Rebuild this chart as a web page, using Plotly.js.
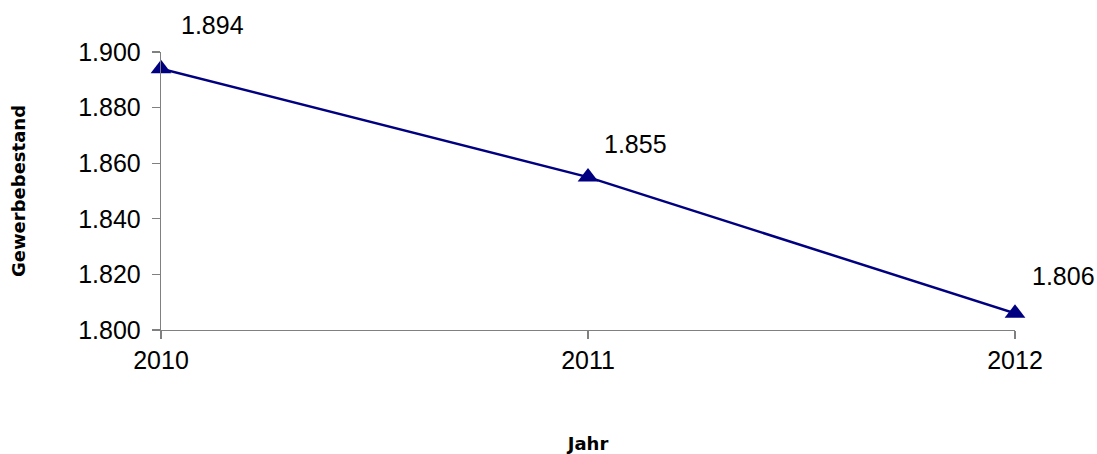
<!DOCTYPE html>
<html>
<head>
<meta charset="utf-8">
<script src="https://cdn.plot.ly/plotly-3.0.1.min.js"></script>
<style>html,body{margin:0;padding:0;background:#fff;}#chart{width:1097px;height:454px;}</style>
</head>
<body>
<div id="chart"></div>
<script>
var years = [2010, 2011, 2012];
var bestand = [1894, 1855, 1806];
var yTicks = [1800, 1820, 1840, 1860, 1880, 1900];

function fmtDe(v){ return String(v).replace(/\B(?=(\d{3})+(?!\d))/g, '.'); }

var labelShift = [[51, 44], [47, 33], [48, 37]];

var trace = {
  x: years, y: bestand, type: 'scatter', mode: 'lines+markers',
  line: {color: '#000080', width: 2.5},
  marker: {symbol: 'triangle-up', size: 18, color: '#000080'},
  cliponaxis: false, hoverinfo: 'x+y'
};

var annotations = years.map(function(yr, i){
  return {x: yr, y: bestand[i], xref: 'x', yref: 'y', text: fmtDe(bestand[i]),
    showarrow: false, xshift: labelShift[i][0], yshift: labelShift[i][1],
    font: {family: 'Liberation Sans, Arial, sans-serif', size: 25, color: '#000'}};
});

var axisFont = {family: 'Liberation Sans, Arial, sans-serif', size: 25, color: '#000'};
var titleFont = {family: 'DejaVu Sans, Verdana, sans-serif', size: 18, color: '#000', weight: 'bold'};

var layout = {
  width: 1097, height: 454,
  margin: {l: 161, r: 82, t: 52, b: 124},
  paper_bgcolor: '#fff', plot_bgcolor: '#fff',
  separators: ',.',
  showlegend: false,
  xaxis: {
    range: [2010, 2012], tickvals: years, ticktext: years.map(String),
    showgrid: false, zeroline: false, showline: true, linecolor: '#808080', linewidth: 1.3,
    ticks: 'outside', ticklen: 8, tickcolor: '#808080', tickwidth: 1.3,
    tickfont: axisFont,
    title: {text: 'Jahr', font: titleFont, standoff: 72}
  },
  yaxis: {
    range: [1800, 1900], tickvals: yTicks, tickformat: ',',
    showgrid: false, zeroline: false, showline: true, linecolor: '#808080', linewidth: 1.3,
    ticks: 'outside', ticklen: 8, tickcolor: '#808080', tickwidth: 1.3,
    ticklabelstandoff: 6,
    tickfont: axisFont,
    title: {text: 'Gewerbebestand', font: titleFont, standoff: 47}
  },
  annotations: annotations
};

Plotly.newPlot('chart', [trace], layout, {displayModeBar: false, staticPlot: true});
</script>
</body>
</html>
